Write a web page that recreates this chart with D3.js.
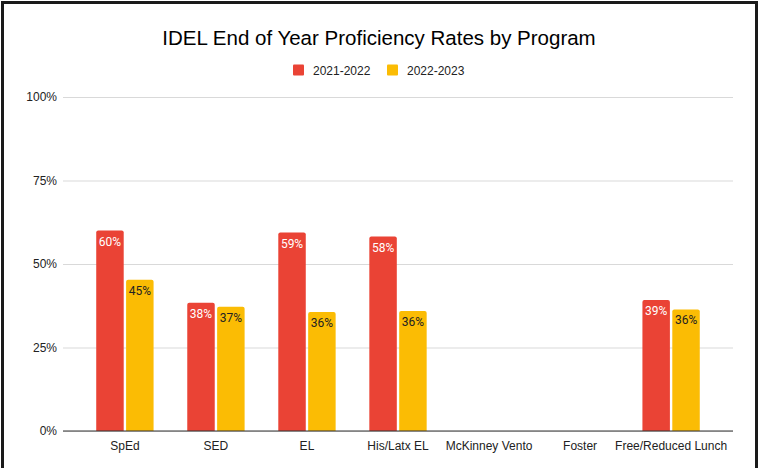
<!DOCTYPE html>
<html>
<head>
<meta charset="utf-8">
<script src="https://cdn.jsdelivr.net/npm/d3@7"></script>
<style>
  html, body { margin: 0; padding: 0; background: #fff; }
  svg { display: block; }
</style>
</head>
<body>
<svg id="chart" width="759" height="468"></svg>
<script>
const categories = ["SpEd", "SED", "EL", "His/Latx EL", "McKinney Vento", "Foster", "Free/Reduced Lunch"];
const seriesNames = ["2021-2022", "2022-2023"];
const values2122 = [60.0, 38.4, 59.4, 58.2, null, null, 39.2];
const values2223 = [45.3, 37.2, 35.6, 35.9, null, null, 36.4];
const yTicks = [0, 25, 50, 75, 100];
const colors = ["#EA4335", "#FBBC04"];
const labelColors = ["#ffffff", "#222222"];

const svg = d3.select("#chart");
const W = 759, H = 468;
const margin = { left: 63, right: 26, top: 97, bottom: 37 };
const font = "Liberation Sans, Arial, sans-serif";

// frame
svg.append("rect").attr("x", 2.5).attr("y", 2.5).attr("width", 754).attr("height", 480)
  .attr("fill", "#fff").attr("stroke", "#1a1a1a").attr("stroke-width", 3);

const x0 = d3.scaleBand().domain(categories).range([margin.left, W - margin.right])
  .paddingInner(0.37).paddingOuter(0.365);
const x1 = d3.scaleBand().domain(seriesNames).range([0, x0.bandwidth()]).paddingInner(0.08);
const y = d3.scaleLinear().domain([0, 100]).range([H - margin.bottom, margin.top]);

// gridlines
const yAxis = d3.axisLeft(y).tickValues(yTicks).tickFormat(d => d + "%").tickSize(-(W - margin.left - margin.right)).tickPadding(6);
const gy = svg.append("g").attr("transform", `translate(${margin.left},0)`).call(yAxis);
gy.select(".domain").remove();
gy.selectAll(".tick line").attr("stroke", "#d9d9d9").attr("stroke-width", 1);
gy.selectAll(".tick text").attr("fill", "#222").attr("font-family", font).attr("font-size", 12);

// bars
const data = categories.map((c, i) => ({ cat: c, vals: [values2122[i], values2223[i]] }));
const groups = svg.append("g").selectAll("g").data(data).join("g")
  .attr("transform", d => `translate(${x0(d.cat)},0)`);

const r = 2;
function barPath(x, w, yTop, yBot) {
  return `M${x},${yBot}V${yTop + r}Q${x},${yTop} ${x + r},${yTop}H${x + w - r}Q${x + w},${yTop} ${x + w},${yTop + r}V${yBot}Z`;
}
groups.each(function(d) {
  const g = d3.select(this);
  d.vals.forEach((v, si) => {
    if (v == null) return;
    const bx = x1(seriesNames[si]);
    const bw = x1.bandwidth();
    g.append("path").attr("d", barPath(bx, bw, y(v), y(0))).attr("fill", colors[si]);
    g.append("text").attr("x", bx + bw / 2).attr("y", y(v) + 15)
      .attr("text-anchor", "middle").attr("fill", labelColors[si])
      .attr("font-family", "Roboto, Arial, sans-serif").attr("font-size", 12)
      .text(Math.round(v) + "%");
  });
});

// x axis baseline
svg.append("line").attr("x1", margin.left).attr("x2", W - margin.right)
  .attr("y1", y(0)).attr("y2", y(0)).attr("stroke", "#333").attr("stroke-width", 1);
const xAxis = d3.axisBottom(x0).tickSize(0).tickPadding(10);
const gx = svg.append("g").attr("transform", `translate(0,${y(0)})`).call(xAxis);
gx.select(".domain").remove();
gx.selectAll(".tick text").attr("fill", "#222").attr("font-family", font).attr("font-size", 12);

// title
svg.append("text").attr("x", 379).attr("y", 44.5).attr("text-anchor", "middle")
  .attr("font-family", font).attr("font-size", 20.5).attr("fill", "#000")
  .text("IDEL End of Year Proficiency Rates by Program");

// legend
const legendX = [293, 387];
seriesNames.forEach((s, i) => {
  svg.append("rect").attr("x", legendX[i]).attr("y", 64.5).attr("width", 11).attr("height", 11).attr("rx", 1).attr("fill", colors[i]);
  svg.append("text").attr("x", legendX[i] + 20).attr("y", 74.5)
    .attr("font-family", font).attr("font-size", 12).attr("fill", "#222").text(s);
});
</script>
</body>
</html>
